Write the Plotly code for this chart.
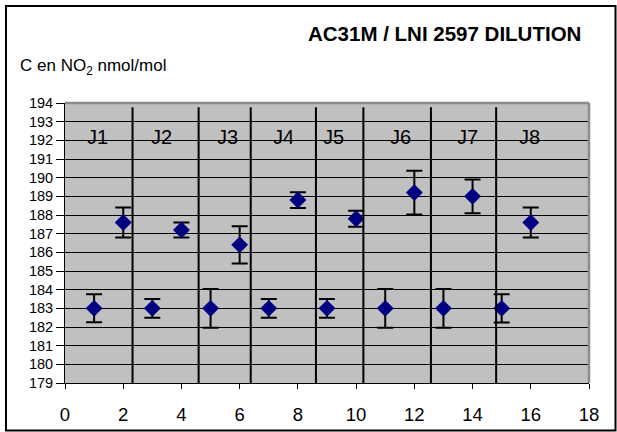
import plotly.graph_objects as go

# Measurement order and NO2 concentrations (nmol/mol) with their uncertainties
run_index = list(range(1, 17))
concentration = [183.0, 187.6, 183.0, 187.2, 183.0, 186.4, 183.0, 188.8,
                 183.0, 187.8, 183.0, 189.2, 183.0, 189.0, 183.0, 187.6]
uncertainty = [0.75, 0.8, 0.5, 0.4, 1.04, 1.0, 0.5, 0.42,
               0.5, 0.43, 1.04, 1.17, 1.04, 0.9, 0.76, 0.8]

# Day labels and the boundaries separating the days
day_labels = ["J1", "J2", "J3", "J4", "J5", "J6", "J7", "J8"]
day_label_x = [1.1, 3.3, 5.57, 7.49, 9.21, 11.54, 13.84, 15.94]
day_label_y = 192.2
day_bounds = [2.32, 4.59, 6.38, 8.62, 10.25, 12.57, 14.81]

y_ticks = list(range(179, 195))
x_ticks = list(range(0, 19, 2))

W, H = 617, 432
L, R, T, B = 65, 28, 103, 49
pw, ph = W - L - R, H - T - B


def px_to_paper_x(px):
    return (px - L) / pw


def py_to_paper_y(py):
    return (H - B - py) / ph


fig = go.Figure()
fig.add_trace(go.Scatter(
    x=run_index,
    y=concentration,
    mode="markers",
    marker=dict(symbol="diamond", size=13, color="#000080",
                line=dict(width=0)),
    error_y=dict(type="data", array=uncertainty, visible=True,
                 color="black", thickness=2, width=8),
    showlegend=False,
    cliponaxis=False,
))

shapes = []
for xb in day_bounds:
    shapes.append(dict(type="line", xref="x", yref="paper", x0=xb, x1=xb,
                       y0=0, y1=0.985, line=dict(color="black", width=2),
                       layer="above"))
# grey plot-area border on top and right
shapes.append(dict(type="line", xref="paper", yref="paper", x0=0, x1=1,
                   y0=1, y1=1, line=dict(color="#8c8c8c", width=2.5)))
shapes.append(dict(type="line", xref="paper", yref="paper", x0=1, x1=1,
                   y0=0, y1=1, line=dict(color="#8c8c8c", width=2.5)))
# chart frame
fx0, fx1 = px_to_paper_x(6), px_to_paper_x(615.5)
fy0, fy1 = py_to_paper_y(430.5), py_to_paper_y(6)
shapes.append(dict(type="rect", xref="paper", yref="paper", x0=fx0, x1=fx1,
                   y0=fy0, y1=fy1, line=dict(color="black", width=2)))

annotations = []
for lab, lx in zip(day_labels, day_label_x):
    annotations.append(dict(x=lx, y=day_label_y, xref="x", yref="y",
                            text=lab, showarrow=False,
                            font=dict(size=20, color="black")))
annotations.append(dict(x=px_to_paper_x(444), y=py_to_paper_y(33),
                        xref="paper", yref="paper",
                        text="<b>AC31M / LNI 2597 DILUTION</b>",
                        showarrow=False, xanchor="center", yanchor="middle",
                        font=dict(size=20.5, color="black")))
annotations.append(dict(x=px_to_paper_x(18), y=py_to_paper_y(67),
                        xref="paper", yref="paper",
                        text="C en NO<sub>2</sub> nmol/mol",
                        showarrow=False, xanchor="left", yanchor="middle",
                        font=dict(size=17, color="black")))

fig.update_layout(
    width=W, height=H,
    margin=dict(l=L, r=R, t=T, b=B, pad=0, autoexpand=False),
    paper_bgcolor="white",
    plot_bgcolor="#C0C0C0",
    font=dict(family="Liberation Sans, Arial, sans-serif", color="black"),
    shapes=shapes,
    annotations=annotations,
    xaxis=dict(range=[0, 18], tickvals=x_ticks, showgrid=False,
               zeroline=False, showline=True, linecolor="black",
               linewidth=1, ticks="outside", ticklen=5,
               tickcolor="black", tickfont=dict(size=18.5),
               ticklabelstandoff=10, automargin=False),
    yaxis=dict(range=[179, 194], tickvals=y_ticks, showgrid=True,
               gridcolor="black", gridwidth=1, zeroline=False,
               showline=True, linecolor="black", linewidth=1,
               ticks="outside", ticklen=8, tickcolor="black",
               tickfont=dict(size=14.5), automargin=False),
)

fig.write_html("out.html")
